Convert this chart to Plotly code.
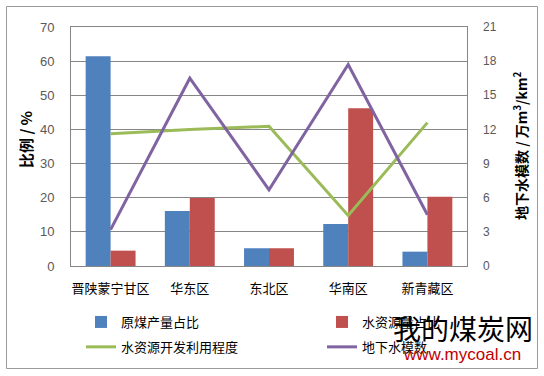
import plotly.graph_objects as go

categories = ["晋陕蒙宁甘区", "华东区", "东北区", "华南区", "新青藏区"]
coal_share = [61.4, 16.1, 5.2, 12.3, 4.2]
water_share = [4.5, 19.9, 5.2, 46.2, 20.3]
water_use = [38.7, 40.0, 40.9, 14.8, 42.0]
groundwater = [3.2, 16.5, 6.7, 17.7, 4.5]

W, H = 544, 376
L, R, T, B = 71, 467, 27, 266

font_cjk = "Noto Sans CJK SC"
tick_col = "#595959"
grid_col = "#868686"

fig = go.Figure()
fig.add_trace(go.Bar(x=categories, y=coal_share, name="原煤产量占比",
                     marker=dict(color="#4F81BD", line=dict(width=0)),
                     legend="legend", legendgroup="a"))
fig.add_trace(go.Bar(x=categories, y=water_share, name="水资源量占比",
                     marker=dict(color="#C0504D", line=dict(width=0)),
                     legend="legend2", legendgroup="b"))
fig.add_trace(go.Scatter(x=categories, y=water_use, name="水资源开发利用程度",
                         mode="lines", line=dict(color="#9BBB59", width=3),
                         legend="legend", legendgroup="c"))
fig.add_trace(go.Scatter(x=categories, y=groundwater, name="地下水模数",
                         mode="lines", line=dict(color="#8064A2", width=3),
                         yaxis="y2", legend="legend2", legendgroup="d"))

pw, ph = R - L, B - T
def px_x(p):
    return (p - L) / pw
def px_y(p):
    return (B - p) / ph

legend_common = dict(orientation="v", xref="container", yref="container",
                     yanchor="top", xanchor="left", bgcolor="rgba(0,0,0,0)",
                     font=dict(family=font_cjk, size=13, color="#000000"),
                     tracegroupgap=5, itemwidth=30)

fig.update_layout(
    width=W, height=H,
    margin=dict(l=L, r=W - R, t=T, b=H - B, pad=0, autoexpand=False),
    paper_bgcolor="white", plot_bgcolor="white",
    barmode="group", bargap=0.37, bargroupgap=0,
    font=dict(family=font_cjk, size=13, color=tick_col),
    xaxis=dict(showgrid=False, showline=True, linecolor=grid_col, linewidth=1,
               mirror=True, ticks="", ticklabelstandoff=10, automargin=False,
               tickfont=dict(family=font_cjk, size=13, color="#000000")),
    yaxis=dict(range=[0, 70], dtick=10, showgrid=True, gridcolor=grid_col,
               gridwidth=1, showline=True, linecolor=grid_col, mirror=True,
               ticks="", ticklabelstandoff=13, zeroline=False, automargin=False,
               tickfont=dict(family="Liberation Sans", size=13, color=tick_col)),
    yaxis2=dict(range=[0, 21], dtick=3, overlaying="y", side="right",
                showgrid=False, zeroline=False, ticks="", ticklabelstandoff=15,
                automargin=False,
                tickfont=dict(family="Liberation Sans", size=12, color=tick_col)),
    legend=dict(x=81 / W, y=1 - 307 / H, **legend_common),
    legend2=dict(x=322 / W, y=1 - 307 / H, **legend_common),
    showlegend=True,
)

# axis titles
fig.add_annotation(text="<b>比例 / %</b>", xref="paper", yref="paper",
                   x=px_x(25), y=px_y(140), xanchor="center", yanchor="middle",
                   textangle=-90, showarrow=False,
                   font=dict(family=font_cjk, size=15, color="#000000"))
fig.add_annotation(text="<b>地下水模数 / 万m<sup>3</sup>/km<sup>2</sup></b>",
                   xref="paper", yref="paper",
                   x=px_x(520), y=px_y(146), xanchor="center", yanchor="middle",
                   textangle=-90, showarrow=False,
                   font=dict(family=font_cjk, size=14, color="#000000"))

# outer chart frame
fig.add_shape(type="rect", xref="paper", yref="paper",
              x0=px_x(6.5), x1=px_x(537.5), y0=px_y(368.5), y1=px_y(6.5),
              line=dict(color="#9A9A9A", width=1), fillcolor="rgba(0,0,0,0)",
              layer="above")

# watermark text
fig.add_annotation(text="我的煤炭网", xref="paper", yref="paper",
                   x=px_x(463), y=px_y(328), xanchor="center", yanchor="middle",
                   showarrow=False,
                   font=dict(family=font_cjk, size=28, color="#000000"))
fig.add_annotation(text="www.mycoal.cn", xref="paper", yref="paper",
                   x=px_x(462), y=px_y(354), xanchor="center", yanchor="middle",
                   showarrow=False,
                   font=dict(family="Liberation Sans", size=17, color="#C00000"))

fig.write_html("out.html", config={"displayModeBar": False},
               post_script="document.body.style.margin='0';document.body.style.overflow='hidden';")
